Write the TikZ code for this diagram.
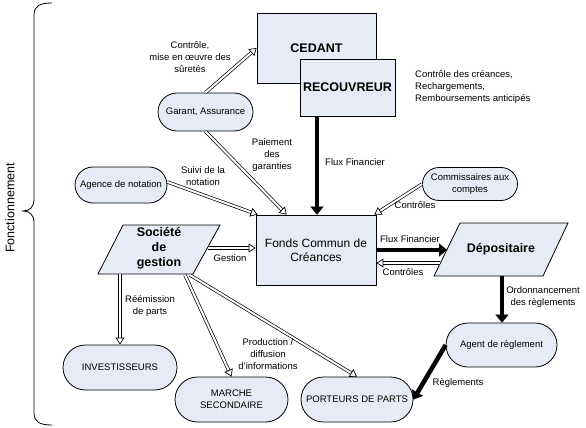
\documentclass[tikz,border=0pt]{standalone}
\usepackage{fontspec}
\setmainfont{Liberation Sans}
\usetikzlibrary{arrows.meta}
\definecolor{boxfill}{RGB}{230,235,247}
\tikzset{
  box/.style={draw, fill=boxfill, line width=0.8pt, inner sep=0pt},
  title/.style={font=\fontsize{12.5}{15}\selectfont\bfseries, align=center},
  stad/.style={box, align=center, font=\fontsize{9.5}{12}\selectfont},
  lbl/.style={font=\fontsize{9.5}{12}\selectfont, align=center, inner sep=0pt},
  bigarrow/.style={line width=4.5pt, -{Triangle[length=8pt,width=13pt,line width=0.1pt]}},
  hshaft/.style={double=white, double distance=2pt, line width=0.7pt, shorten >=6.6pt},
  htip/.style={draw=white, line width=0.1pt, -{Triangle[open,length=7pt,width=9pt,line width=0.7pt,color=black]}},
}
\newcommand\hollowarrow[2]{\draw[hshaft] #1 -- #2; \draw[htip] #1 -- #2;}
\begin{document}
\begin{tikzpicture}[x=1pt,y=-1pt]
\useasboundingbox (0,0) rectangle (586,428);

% brace and side label
\draw[line width=0.8pt] (52,3) .. controls (40,3) and (34,6) .. (34,15) -- (34,199)
  .. controls (34,207) and (30,211) .. (23,211) .. controls (30,211) and (34,215) .. (34,223)
  -- (34,413) .. controls (34,422) and (40,425) .. (52,425);
\node[rotate=90, font=\fontsize{12.5}{15}\selectfont] (fonct) at (10,208) {Fonctionnement};

% rectangles
\node[box, title, minimum width=119pt, minimum height=70pt] (ced) at (316.5,48) {CEDANT};
\node[box, title, minimum width=95pt, minimum height=57pt] (recv) at (347.5,87.5) {RECOUVREUR};
\node[box, align=center, font=\fontsize{12}{14}\selectfont, minimum width=120pt, minimum height=70pt] (fonds) at (316,250) {Fonds Commun de\\Créances};

% parallelograms
\draw[box] (123,225) -- (220,225) -- (193,274) -- (98,274) -- cycle;
\node[title, inner sep=0pt] (soc) at (159,248) {Société\\de\\gestion};
\draw[box] (460,223) -- (568,223) -- (543,276) -- (434,276) -- cycle;
\node[title, inner sep=0pt] (dep) at (501,249.5) {Dépositaire};
\coordinate (socR) at (208,248);
\coordinate (socB1) at (120,274);
\coordinate (socB2) at (185,275);
\coordinate (socB3) at (190,275);
\coordinate (depL1) at (447,250);
\coordinate (depL2) at (440,263);
\coordinate (depB) at (502,276);

% stadiums
\node[stad, minimum width=95pt, minimum height=38pt, rounded corners=19pt] (garant) at (205.5,112) {Garant, Assurance};
\node[stad, minimum width=92pt, minimum height=36pt, rounded corners=18pt] (agence) at (121,185) {Agence de notation};
\node[stad, minimum width=95pt, minimum height=33pt, rounded corners=16.5pt] (comm) at (470,184) {Commissaires aux\\comptes};
\node[stad, minimum width=111pt, minimum height=44pt, rounded corners=22pt] (agent) at (501.5,345) {Agent de règlement};
\node[stad, minimum width=112pt, minimum height=45pt, rounded corners=22.5pt] (porteurs) at (357,399.5) {PORTEURS DE PARTS};
\node[stad, minimum width=114pt, minimum height=45pt, rounded corners=22.5pt] (invest) at (120,367.5) {INVESTISSEURS};
\node[stad, minimum width=113pt, minimum height=45pt, rounded corners=22.5pt] (marche) at (231.5,399.5) {MARCHE\\SECONDAIRE};

% hollow arrows
\hollowarrow{(garant.north)}{(ced.west)}
\hollowarrow{(garant.south)}{([xshift=31pt]fonds.north west)}
\hollowarrow{([yshift=3pt]agence.east)}{([xshift=2pt]fonds.north west)}
\hollowarrow{(comm.west)}{([xshift=-2pt]fonds.north east)}
\hollowarrow{(socR)}{(socR -| fonds.west)}
\hollowarrow{(depL2)}{(depL2 -| fonds.east)}
\hollowarrow{(socB1)}{(socB1 |- invest.north)}
\hollowarrow{(socB2)}{(marche.north)}
\hollowarrow{(socB3)}{(porteurs.north)}

% thick black arrows
\draw[bigarrow] ([xshift=-30.5pt]recv.south) -- ([xshift=-30.5pt]recv.south |- fonds.north);
\draw[bigarrow] (fonds.east |- depL1) -- (depL1);
\draw[bigarrow] (depB) -- (depB |- agent.north);
\draw[bigarrow] (agent.west) -- (porteurs.east);

% labels
\node[lbl] (l1) at (190,57) {Contrôle,\\mise en œuvre des\\sûretés};
\node[lbl] (l2) at (272,155) {Paiement\\des\\garanties};
\node[lbl] (l3) at (203,176) {Suivi de la\\notation};
\node[lbl, anchor=west] (l4) at (325,162) {Flux Financier};
\node[lbl, anchor=west, align=left] (l5) at (415,87) {Contrôle des créances,\\Rechargements,\\Remboursements anticipés};
\node[lbl] (l6) at (415,205) {Contrôles};
\node[lbl] (l7) at (230,258) {Gestion};
\node[lbl] (l8) at (410,239) {Flux Financier};
\node[lbl] (l9) at (403,272) {Contrôles};
\node[lbl] (l10) at (543,297) {Ordonnancement\\des règlements};
\node[lbl] (l11) at (458,383) {Règlements};
\node[lbl] (l12) at (150,306) {Réémission\\de parts};
\node[lbl] (l13) at (268,354) {Production /\\diffusion\\d'informations};
\end{tikzpicture}
\end{document}
